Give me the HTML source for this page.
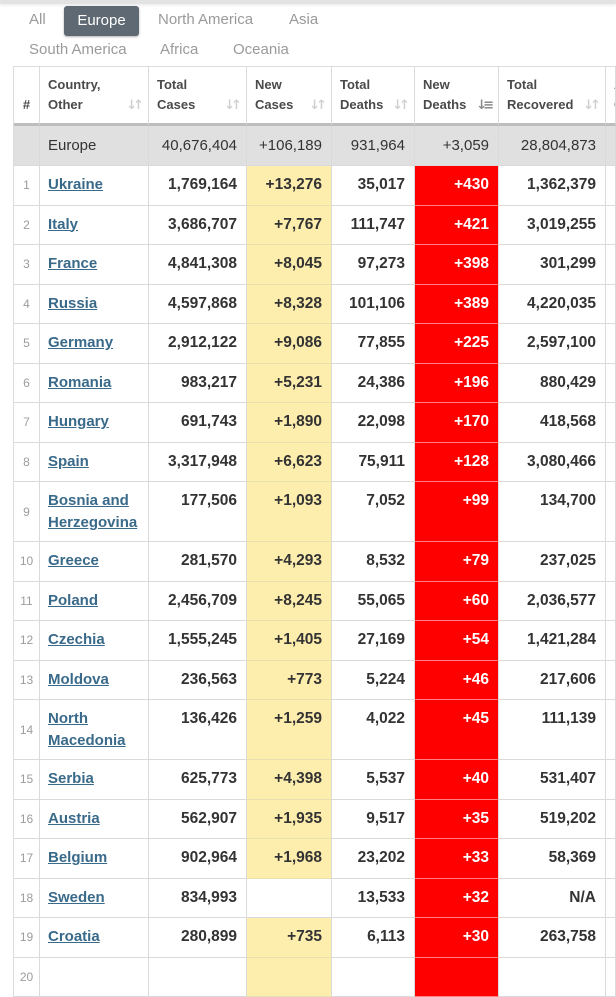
<!DOCTYPE html>
<html><head><meta charset="utf-8">
<style>
*{box-sizing:border-box;margin:0;padding:0}
html,body{width:616px;height:960px;overflow:hidden;background:#fff;font-family:"Liberation Sans",Arial,sans-serif}
.topbar{position:absolute;left:0;top:0;width:616px;height:4px;background:#e3e3e3;box-shadow:0 1px 3px rgba(0,0,0,0.10)}
.tab{position:absolute;font-size:15px;color:#9a9a9a;line-height:20px;white-space:nowrap}
.btn{position:absolute;left:64px;top:6px;width:75px;height:30px;background:#5f6973;border-radius:3px;color:#fff;font-size:15px;line-height:30px;text-align:center;box-shadow:0 1px 2px rgba(0,0,0,.3)}
.tbl{position:absolute;left:13px;top:66px;border-top:1px solid #dcdcdc;border-left:1px solid #dcdcdc;width:603px;overflow:hidden}
.row{display:grid;grid-template-columns:26px 109px 98px 85px 83px 84px 107px 10px;height:39.5px}
.row.d{height:60px}
.row.hd{height:59px}
.row.eu{height:40px}
.row>div{border-right:1px solid #dadada;border-bottom:1px solid #dadada;overflow:hidden;white-space:nowrap}
.th{position:relative;padding:8px 0 0 8px;font-weight:bold;font-size:13px;line-height:20px;color:#4a4a4a;border-bottom:3px solid #bdbdbd !important}
.th.hash{padding:28px 0 0 0;text-align:center}
.s{position:absolute;right:8px;top:29px;font-family:"DejaVu Sans",sans-serif;font-size:13px;line-height:20px;color:#d0d0d0;letter-spacing:-4px;font-weight:bold}
.s.a{color:#8a8a8a}
.eu>div{background:#e0e0e0;font-size:15px;line-height:22px;color:#333;padding-top:9px}
.eu .r0{text-align:right;padding-right:9px}
.eu .c0{padding-left:8px}
.n{text-align:right;padding:8px 9px 0 0;font-weight:bold;font-size:15.5px;line-height:22px;color:#333}
.c{padding:8px 0 0 8px;font-weight:bold;font-size:15px;line-height:22px}
.c a{color:#3a6a8a;text-decoration:underline}
.i{font-size:12px;color:#9c9c9c;display:flex;align-items:center;justify-content:center}
.y{background:#fdeeae}
.row>.y{border-bottom-color:#eadfae}
.rd{background:#ff0000;color:#fff}
.row>.rd{border-bottom-color:#ff8080}
</style></head><body>
<div class="topbar"></div>
<div class="tab" style="left:29px;top:10px">All</div>
<div class="btn">Europe</div>
<div class="tab" style="left:158px;top:10px">North America</div>
<div class="tab" style="left:289px;top:10px">Asia</div>
<div class="tab" style="left:29px;top:40px">South America</div>
<div class="tab" style="left:160px;top:40px">Africa</div>
<div class="tab" style="left:233px;top:40px">Oceania</div>

<div class="tbl">
<div class="row hd">
<div class="th hash">#</div>
<div class="th">Country,<br>Other<span class="s">↓↑</span></div>
<div class="th">Total<br>Cases<span class="s">↓↑</span></div>
<div class="th">New<br>Cases<span class="s">↓↑</span></div>
<div class="th">Total<br>Deaths<span class="s">↓↑</span></div>
<div class="th">New<br>Deaths<span class="s a">↓≡</span></div>
<div class="th">Total<br>Recovered<span class="s">↓↑</span></div>
<div class="th">Active<br>Cases</div>
</div>
<div class="row eu">
<div></div><div class="c0">Europe</div><div class="r0">40,676,404</div><div class="r0">+106,189</div><div class="r0">931,964</div><div class="r0">+3,059</div><div class="r0">28,804,873</div><div></div>
</div>

<div class="row"><div class="i">1</div><div class="c"><a>Ukraine</a></div><div class="n">1,769,164</div><div class="n y">+13,276</div><div class="n">35,017</div><div class="n rd">+430</div><div class="n">1,362,379</div><div></div></div>
<div class="row"><div class="i">2</div><div class="c"><a>Italy</a></div><div class="n">3,686,707</div><div class="n y">+7,767</div><div class="n">111,747</div><div class="n rd">+421</div><div class="n">3,019,255</div><div></div></div>
<div class="row"><div class="i">3</div><div class="c"><a>France</a></div><div class="n">4,841,308</div><div class="n y">+8,045</div><div class="n">97,273</div><div class="n rd">+398</div><div class="n">301,299</div><div></div></div>
<div class="row"><div class="i">4</div><div class="c"><a>Russia</a></div><div class="n">4,597,868</div><div class="n y">+8,328</div><div class="n">101,106</div><div class="n rd">+389</div><div class="n">4,220,035</div><div></div></div>
<div class="row"><div class="i">5</div><div class="c"><a>Germany</a></div><div class="n">2,912,122</div><div class="n y">+9,086</div><div class="n">77,855</div><div class="n rd">+225</div><div class="n">2,597,100</div><div></div></div>
<div class="row"><div class="i">6</div><div class="c"><a>Romania</a></div><div class="n">983,217</div><div class="n y">+5,231</div><div class="n">24,386</div><div class="n rd">+196</div><div class="n">880,429</div><div></div></div>
<div class="row"><div class="i">7</div><div class="c"><a>Hungary</a></div><div class="n">691,743</div><div class="n y">+1,890</div><div class="n">22,098</div><div class="n rd">+170</div><div class="n">418,568</div><div></div></div>
<div class="row"><div class="i">8</div><div class="c"><a>Spain</a></div><div class="n">3,317,948</div><div class="n y">+6,623</div><div class="n">75,911</div><div class="n rd">+128</div><div class="n">3,080,466</div><div></div></div>
<div class="row d"><div class="i">9</div><div class="c"><a>Bosnia and</a><br><a>Herzegovina</a></div><div class="n">177,506</div><div class="n y">+1,093</div><div class="n">7,052</div><div class="n rd">+99</div><div class="n">134,700</div><div></div></div>
<div class="row"><div class="i">10</div><div class="c"><a>Greece</a></div><div class="n">281,570</div><div class="n y">+4,293</div><div class="n">8,532</div><div class="n rd">+79</div><div class="n">237,025</div><div></div></div>
<div class="row"><div class="i">11</div><div class="c"><a>Poland</a></div><div class="n">2,456,709</div><div class="n y">+8,245</div><div class="n">55,065</div><div class="n rd">+60</div><div class="n">2,036,577</div><div></div></div>
<div class="row"><div class="i">12</div><div class="c"><a>Czechia</a></div><div class="n">1,555,245</div><div class="n y">+1,405</div><div class="n">27,169</div><div class="n rd">+54</div><div class="n">1,421,284</div><div></div></div>
<div class="row"><div class="i">13</div><div class="c"><a>Moldova</a></div><div class="n">236,563</div><div class="n y">+773</div><div class="n">5,224</div><div class="n rd">+46</div><div class="n">217,606</div><div></div></div>
<div class="row d"><div class="i">14</div><div class="c"><a>North</a><br><a>Macedonia</a></div><div class="n">136,426</div><div class="n y">+1,259</div><div class="n">4,022</div><div class="n rd">+45</div><div class="n">111,139</div><div></div></div>
<div class="row"><div class="i">15</div><div class="c"><a>Serbia</a></div><div class="n">625,773</div><div class="n y">+4,398</div><div class="n">5,537</div><div class="n rd">+40</div><div class="n">531,407</div><div></div></div>
<div class="row"><div class="i">16</div><div class="c"><a>Austria</a></div><div class="n">562,907</div><div class="n y">+1,935</div><div class="n">9,517</div><div class="n rd">+35</div><div class="n">519,202</div><div></div></div>
<div class="row"><div class="i">17</div><div class="c"><a>Belgium</a></div><div class="n">902,964</div><div class="n y">+1,968</div><div class="n">23,202</div><div class="n rd">+33</div><div class="n">58,369</div><div></div></div>
<div class="row"><div class="i">18</div><div class="c"><a>Sweden</a></div><div class="n">834,993</div><div class="n"></div><div class="n">13,533</div><div class="n rd">+32</div><div class="n">N/A</div><div></div></div>
<div class="row"><div class="i">19</div><div class="c"><a>Croatia</a></div><div class="n">280,899</div><div class="n y">+735</div><div class="n">6,113</div><div class="n rd">+30</div><div class="n">263,758</div><div></div></div>
<div class="row"><div class="i">20</div><div class="c"></div><div class="n"></div><div class="n y"></div><div class="n"></div><div class="n rd"></div><div class="n"></div><div></div></div>
</div>
</body></html>
